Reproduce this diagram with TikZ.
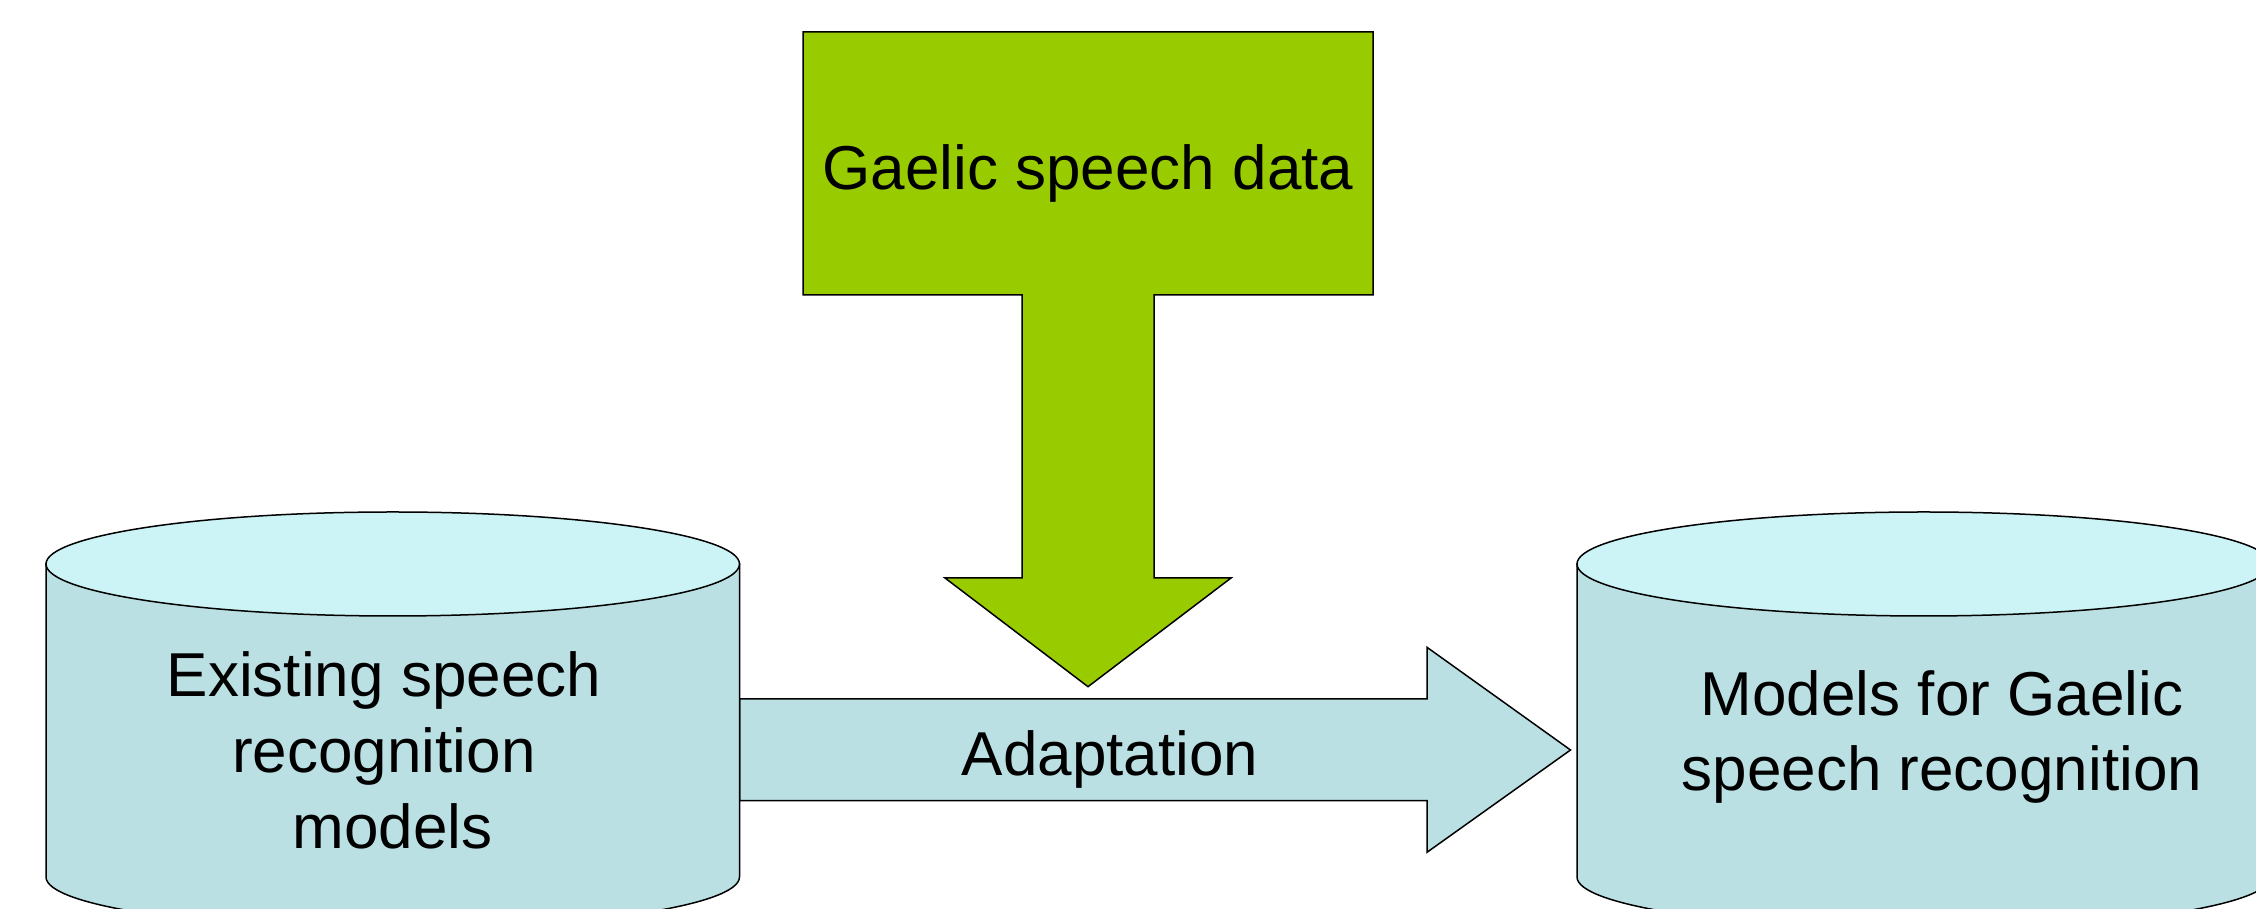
\documentclass[tikz,border=0pt]{standalone}
\usepackage{fontspec}
\setmainfont{Liberation Sans}
\usetikzlibrary{calc}
\definecolor{dbbody}{HTML}{BBE0E3}
\definecolor{dbtop}{HTML}{CCF3F6}
\definecolor{datagreen}{HTML}{99CC00}
\begin{document}
\begin{tikzpicture}[x=1pt,y=1pt,
  outline/.style={draw=black, line width=1.5pt, line join=miter},
  label/.style={font=\fontsize{62}{75}\selectfont, inner sep=0pt, align=center, text=black},
]
\useasboundingbox (0,0) rectangle (2256,909);
\clip (0,0) rectangle (2256,909);

% centres of the two cylinder tops
\coordinate (srcdb) at (392.75,345);
\coordinate (dstdb) at (1923.75,345);

% block arrow "Adaptation" from the source cylinder to the target one
\path[outline, fill=dbbody]
  (739.5,210) -- (1427,210) -- (1427,261.7) -- (1570.5,159)
  -- (1427,56.7) -- (1427,108.3) -- (739.5,108.3) -- cycle;

% cylinders: body with rounded bottom, then the top ellipse
\foreach \c in {srcdb,dstdb}{
  \path[outline, fill=dbbody]
    ($(\c)+(-346.75,0)$) -- ++(0,-313)
    arc[start angle=180, end angle=360, x radius=346.75, y radius=52]
    -- ++(0,313) -- cycle;
  \path[outline, fill=dbtop] (\c) ellipse[x radius=346.75, y radius=52];
}

% green callout with downward arrow
\path[outline, fill=datagreen]
  (803,877) -- (1373,877) -- (1373,614) -- (1154,614) -- (1154,331)
  -- (1231,331) -- (1088,222.3) -- (945,331) -- (1022,331)
  -- (1022,614) -- (803,614) -- cycle;

% labels
\node[label, anchor=base] (data) at (1088,719) {Gaelic speech data};
\node[label, anchor=base] (adapt) at (1110,133) {Adaptation};
\node[label, font=\fontsize{62}{76.3}\selectfont] (existing) at (384,158.6)
  {Existing speech\\recognition\\\hspace*{\fontdimen2\font}models};
\node[label] (gaelicmodels) at (1942,172) {Models for Gaelic\\speech recognition};
\end{tikzpicture}
\end{document}
